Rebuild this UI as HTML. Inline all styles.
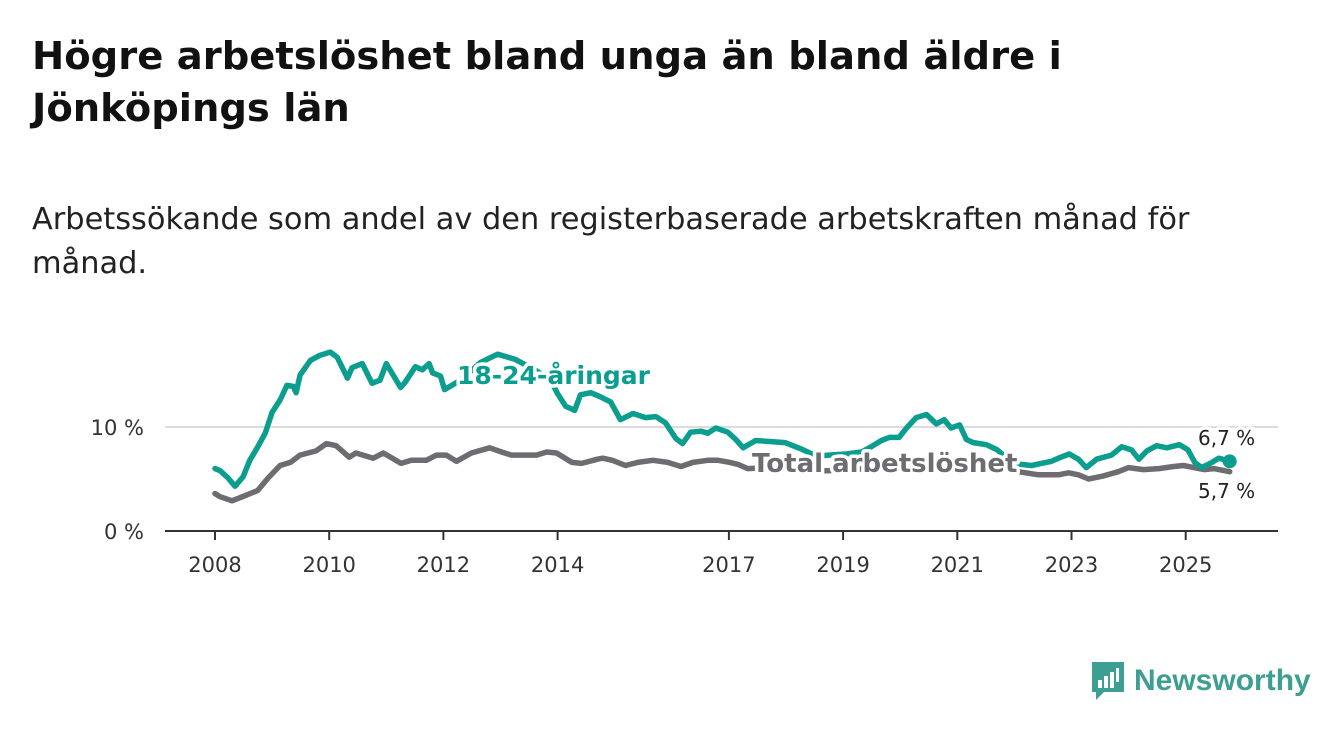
<!DOCTYPE html>
<html><head><meta charset="utf-8"><style>
body{margin:0;background:#fff;width:1340px;height:734px;overflow:hidden;font-family:"DejaVu Sans",sans-serif;}
h1{position:absolute;left:32px;top:31px;margin:0;font-size:38.5px;line-height:52px;font-weight:bold;color:#111;width:1250px;white-space:nowrap}
.sub{position:absolute;left:32px;top:198px;font-size:30.4px;line-height:44px;color:#222;width:1300px;white-space:nowrap}
svg{position:absolute;left:0;top:0}
.logo{position:absolute;left:1090px;top:660px;display:flex;align-items:center;color:#3d9f92;font-size:30px;font-weight:bold;font-family:"Liberation Sans",sans-serif}
</style></head><body>
<h1>Högre arbetslöshet bland unga än bland äldre i<br>Jönköpings län</h1>
<div class="sub">Arbetssökande som andel av den registerbaserade arbetskraften månad för<br>månad.</div>
<svg id="chart" width="1340" height="734"></svg>
<div class="logo"><svg width="36" height="42" viewBox="0 0 36 42" style="position:static;margin-right:8px"><path d="M2 2h32v30H14l-8 8v-8H2z" fill="#3d9f92"/><rect x="8" y="20" width="4" height="8" fill="#fff"/><rect x="14" y="16" width="4" height="12" fill="#fff"/><rect x="20" y="12" width="4" height="16" fill="#fff"/><rect x="26" y="8" width="3" height="14" fill="#fff"/></svg>Newsworthy</div>
<script>
const youthYears=[2008.0,2008.09,2008.23,2008.35,2008.49,2008.61,2008.75,2008.88,2009.0,2009.14,2009.26,2009.37,2009.42,2009.49,2009.67,2009.84,2010.02,2010.14,2010.32,2010.4,2010.58,2010.75,2010.89,2011.0,2011.25,2011.33,2011.51,2011.63,2011.75,2011.81,2011.95,2012.02,2012.3,2012.65,2012.95,2013.26,2013.6,2013.88,2014.0,2014.14,2014.3,2014.4,2014.58,2014.75,2014.93,2015.1,2015.32,2015.54,2015.72,2015.89,2016.07,2016.19,2016.33,2016.51,2016.63,2016.77,2016.98,2017.12,2017.25,2017.47,2017.74,2017.98,2018.26,2018.53,2018.75,2019.05,2019.32,2019.49,2019.67,2019.81,2019.98,2020.11,2020.28,2020.46,2020.63,2020.77,2020.89,2021.04,2021.16,2021.28,2021.51,2021.7,2021.95,2022.12,2022.3,2022.47,2022.65,2022.77,2022.96,2023.12,2023.26,2023.44,2023.7,2023.88,2024.05,2024.18,2024.32,2024.49,2024.67,2024.89,2025.04,2025.16,2025.28,2025.46,2025.58,2025.77];
const youthValues=[6.0,5.8,5.1,4.3,5.2,6.8,8.1,9.4,11.4,12.6,14.0,13.9,13.3,15.0,16.4,16.9,17.2,16.7,14.7,15.7,16.1,14.2,14.5,16.1,13.8,14.3,15.8,15.5,16.1,15.2,14.9,13.6,14.5,16.2,17.0,16.5,15.5,14.5,13.2,12.0,11.6,13.1,13.3,12.9,12.4,10.7,11.3,10.9,11.0,10.4,8.9,8.4,9.5,9.6,9.4,9.9,9.5,8.8,8.0,8.7,8.6,8.5,7.9,7.2,7.3,7.4,7.6,8.1,8.7,9.0,9.0,9.9,10.9,11.2,10.3,10.7,9.9,10.2,8.8,8.5,8.3,7.8,6.6,6.4,6.3,6.5,6.7,7.0,7.4,6.9,6.1,6.9,7.3,8.1,7.8,6.9,7.7,8.2,8.0,8.3,7.8,6.6,6.1,6.6,7.0,6.7];
const totalYears=[2008.0,2008.09,2008.3,2008.53,2008.75,2008.93,2009.14,2009.32,2009.49,2009.77,2009.95,2010.12,2010.35,2010.47,2010.77,2010.95,2011.26,2011.44,2011.7,2011.88,2012.05,2012.23,2012.49,2012.81,2013.02,2013.19,2013.37,2013.63,2013.81,2013.98,2014.25,2014.42,2014.7,2014.79,2014.96,2015.19,2015.4,2015.67,2015.93,2016.16,2016.37,2016.63,2016.81,2017.02,2017.16,2017.33,2017.7,2018.2,2018.7,2019.2,2019.7,2020.2,2020.5,2020.9,2021.3,2021.7,2022.07,2022.42,2022.77,2022.95,2023.12,2023.3,2023.56,2023.82,2024.0,2024.26,2024.53,2024.79,2024.96,2025.14,2025.32,2025.49,2025.77];
const totalValues=[3.6,3.3,2.9,3.4,3.9,5.1,6.3,6.6,7.3,7.7,8.4,8.2,7.1,7.5,7.0,7.5,6.5,6.8,6.8,7.3,7.3,6.7,7.5,8.0,7.6,7.3,7.3,7.3,7.6,7.5,6.6,6.5,6.9,7.0,6.8,6.3,6.6,6.8,6.6,6.2,6.6,6.8,6.8,6.6,6.4,6.0,6.1,6.0,5.8,5.9,6.2,6.6,7.0,6.8,6.3,6.0,5.7,5.4,5.4,5.6,5.4,5.0,5.3,5.7,6.1,5.9,6.0,6.2,6.3,6.1,5.9,6.0,5.7];
const xTicks=[2008,2010,2012,2014,2017,2019,2021,2023,2025];
const yTicks=[0,10];
const yTickLabels=["0 %","10 %"];

const NS="http://www.w3.org/2000/svg";
const svg=document.getElementById('chart');
const X=y=>215+(y-2008)*57.1;
const Y=v=>531-v*10.4;
function mk(tag,attrs,parent){const e=document.createElementNS(NS,tag);for(const k in attrs)e.setAttribute(k,attrs[k]);(parent||svg).appendChild(e);return e;}
yTicks.forEach((t,i)=>{
  if(t>0){const g=mk('line',{x1:165,x2:1278,y1:Y(t),y2:Y(t),stroke:'#dcdcdc','stroke-width':2});
  
  }
  const l=mk('text',{x:144,y:Y(t)+8,'text-anchor':'end','font-size':21,fill:'#333'});
  l.textContent=yTickLabels[i];
  
  
});
const ax=mk('line',{x1:165,x2:1278,y1:531,y2:531,stroke:'#333','stroke-width':2});


xTicks.forEach(t=>{
  const tk=mk('line',{x1:X(t),x2:X(t),y1:531,y2:540,stroke:'#333','stroke-width':2});
  
  
  const l=mk('text',{x:X(t),y:572,'text-anchor':'middle','font-size':21,fill:'#333'});
  l.textContent=t;
  
  
});
function path(xs,vs){return xs.map((x,i)=>(i?'L':'M')+X(x).toFixed(1)+' '+Y(vs[i]).toFixed(1)).join(' ');}
const tl=mk('path',{d:path(totalYears,totalValues),fill:'none',stroke:'#6d6c70','stroke-width':5.5,'stroke-linejoin':'round','stroke-linecap':'round'});


const yl=mk('path',{d:path(youthYears,youthValues),fill:'none',stroke:'#0b9e8f','stroke-width':5.5,'stroke-linejoin':'round','stroke-linecap':'round'});


const lastY=youthValues.length-1, lastT=totalValues.length-1;
const d=mk('circle',{cx:X(youthYears[lastY]),cy:Y(youthValues[lastY]),r:7,fill:'#0b9e8f'});


function lab(txt,x,y,fill,size,weight,name){const t=mk('text',{x:x,y:y,fill:fill,'font-size':size,'font-weight':weight,stroke:'#fff','stroke-width':7,'paint-order':'stroke','stroke-linejoin':'round'});t.textContent=txt;

}
lab('18-24-åringar',457,384,'#0b9e8f',25,'bold','youth-series-label');
lab('Total arbetslöshet',752,472,'#6d6c70',26,'bold','total-series-label');
lab(youthValues[lastY].toFixed(1).replace('.',',')+' %',1198,445,'#222',20,'normal','youth-end-value');
lab(totalValues[lastT].toFixed(1).replace('.',',')+' %',1198,498,'#222',20,'normal','total-end-value');
</script>
</body></html>
